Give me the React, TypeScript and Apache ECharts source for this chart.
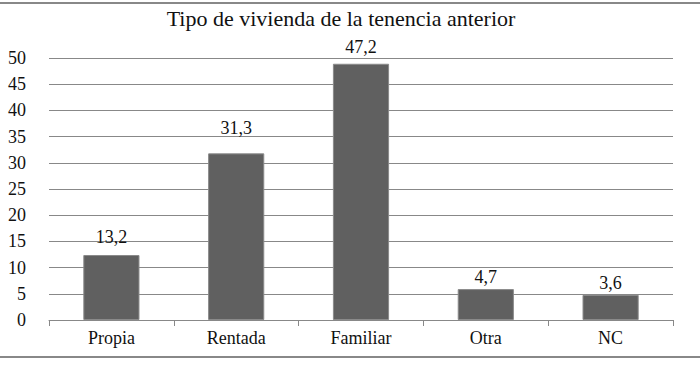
import React, { useEffect, useRef } from "react";
import * as echarts from "echarts";

const categories = ["Propia", "Rentada", "Familiar", "Otra", "NC"];
const barHeights = [12.4, 31.8, 48.9, 5.9, 4.8];
const labelTexts = ["13,2", "31,3", "47,2", "4,7", "3,6"];
const labelGaps = [9, 16, 8, 3, 3];
const yTicks = { min: 0, max: 50, interval: 5 };
const title = "Tipo de vivienda de la tenencia anterior";

const FONT = "Liberation Serif";

export default function App() {
  const ref = useRef<HTMLDivElement>(null);
  useEffect(() => {
    if (!ref.current) return;
    const chart = echarts.init(ref.current, null, { renderer: "svg" });
    chart.setOption({
      animation: false,
      backgroundColor: "#ffffff",
      textStyle: { fontFamily: FONT },
      title: {
        text: title,
        left: 336,
        textAlign: "center",
        top: 5,
        padding: [2, 5],
        textStyle: { fontFamily: FONT, fontSize: 22, fontWeight: "normal", color: "#111" },
      },
      grid: { left: 49, right: 27, top: 58, bottom: 45 },
      xAxis: {
        type: "category",
        data: categories,
        axisLine: { show: true, lineStyle: { color: "#888", width: 1 } },
        axisTick: { show: true, length: 6, lineStyle: { color: "#888" } },
        axisLabel: { fontFamily: FONT, fontSize: 18, color: "#111", margin: 9 },
      },
      yAxis: {
        type: "value",
        min: yTicks.min,
        max: yTicks.max,
        interval: yTicks.interval,
        axisLine: { show: false },
        axisTick: { show: false },
        axisLabel: { fontFamily: FONT, fontSize: 18, color: "#111", margin: 23 },
        splitLine: { show: true, lineStyle: { color: "#888", width: 1 } },
      },
      series: [
        {
          type: "bar",
          barWidth: "45%",
          data: barHeights.map((v, i) => ({
            value: v,
            label: {
              show: true,
              position: "top",
              distance: labelGaps[i],
              formatter: labelTexts[i],
              fontFamily: FONT,
              fontSize: 18,
              color: "#111",
            },
          })),
          itemStyle: { color: "#606060", borderColor: "#8a8a8a", borderWidth: 1 },
        },
      ],
      graphic: [
        { type: "line", shape: { x1: 0, y1: 3, x2: 700, y2: 3 }, style: { stroke: "#888", lineWidth: 2 } },
        { type: "line", shape: { x1: 0, y1: 357, x2: 700, y2: 357 }, style: { stroke: "#888", lineWidth: 2 } },
      ],
    });
    return () => chart.dispose();
  }, []);
  return <div ref={ref} style={{ width: 700, height: 365, position: "absolute", left: 0, top: 0 }} />;
}
